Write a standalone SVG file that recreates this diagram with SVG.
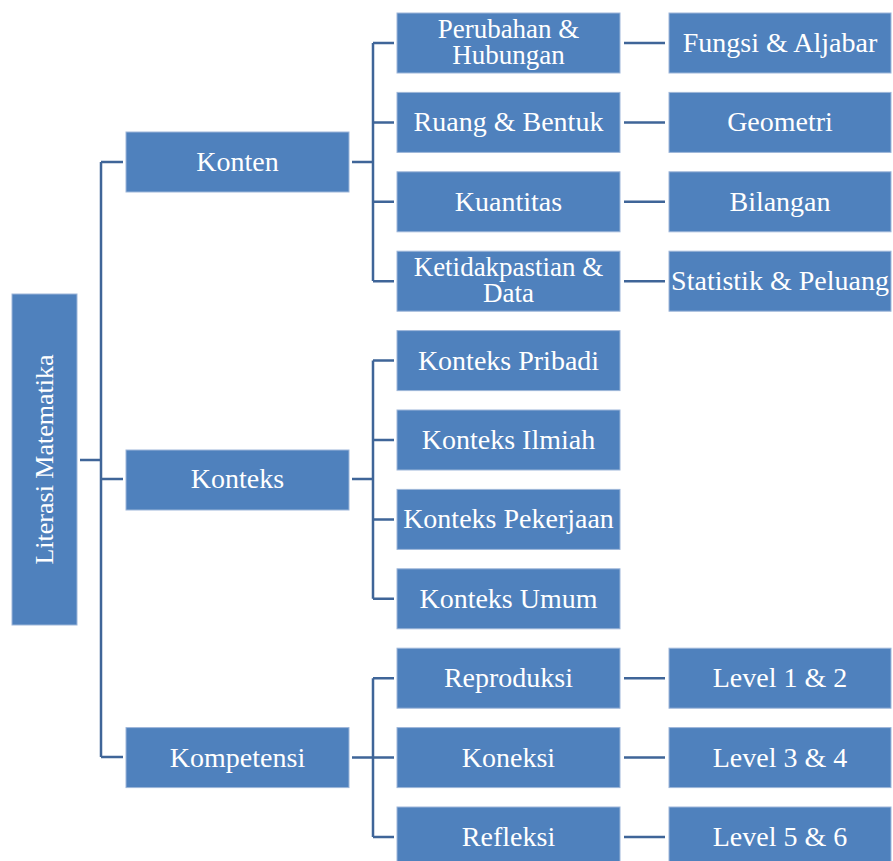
<svg xmlns="http://www.w3.org/2000/svg" width="893" height="861" viewBox="0 0 893 861">
<style>
.b{fill:#4F81BD;stroke:#9db6d9;stroke-width:1}
.t{fill:#ffffff;font-family:"Liberation Serif","Times New Roman",serif;font-size:28px;text-anchor:middle}
.t2{font-size:27px}
.c{fill:none;stroke:#3F6598;stroke-width:2.5}
</style>
<rect width="893" height="861" fill="#ffffff"/>
<g id="connectors">
<path class="c" d="M80,460H101M101,162V757M101,162H123M101,479H123M101,757H123"/>
<path class="c" d="M352,162H373M373,43V281M373,43H394M373,122.4H394M373,201.8H394M373,281.2H394"/>
<path class="c" d="M352,479H373M373,360.6V598.8M373,360.6H394M373,440H394M373,519.4H394M373,598.8H394"/>
<path class="c" d="M352,757.6H373M373,678.2V837M373,678.2H394M373,757.6H394M373,837H394"/>
<path class="c" d="M624,43H665M624,122.4H665M624,201.8H665M624,281.2H665M624,678.2H665M624,757.6H665M624,837H665"/>
</g>
<g id="root"><rect class="b" x="12" y="294" width="65" height="331"/><text class="t" style="font-size:26px" transform="rotate(-90 53 459.5)" x="53" y="459.5">Literasi Matematika</text></g>
<g id="konten"><rect class="b" x="126" y="132" width="223" height="60"/><text class="t" x="237.5" y="171">Konten</text></g>
<g id="konteks"><rect class="b" x="126" y="450" width="223" height="60"/><text class="t" x="237.5" y="488">Konteks</text></g>
<g id="kompetensi"><rect class="b" x="126" y="727.6" width="223" height="60"/><text class="t" x="237.5" y="766.5">Kompetensi</text></g>
<g id="perubahan"><rect class="b" x="397" y="13" width="223" height="60"/><text class="t t2" x="508.5" y="38">Perubahan &amp;</text><text class="t t2" x="508.5" y="64">Hubungan</text></g>
<g id="ruang"><rect class="b" x="397" y="92.4" width="223" height="60"/><text class="t" x="508.5" y="131.4">Ruang &amp; Bentuk</text></g>
<g id="kuantitas"><rect class="b" x="397" y="171.8" width="223" height="60"/><text class="t" x="508.5" y="210.8">Kuantitas</text></g>
<g id="ketidakpastian"><rect class="b" x="397" y="251.2" width="223" height="60"/><text class="t t2" x="508.5" y="276.2">Ketidakpastian &amp;</text><text class="t t2" x="508.5" y="302.2">Data</text></g>
<g id="pribadi"><rect class="b" x="397" y="330.6" width="223" height="60"/><text class="t" x="508.5" y="369.6">Konteks Pribadi</text></g>
<g id="ilmiah"><rect class="b" x="397" y="410" width="223" height="60"/><text class="t" x="508.5" y="449">Konteks Ilmiah</text></g>
<g id="pekerjaan"><rect class="b" x="397" y="489.4" width="223" height="60"/><text class="t" x="508.5" y="528.4">Konteks Pekerjaan</text></g>
<g id="umum"><rect class="b" x="397" y="568.8" width="223" height="60"/><text class="t" x="508.5" y="607.8">Konteks Umum</text></g>
<g id="reproduksi"><rect class="b" x="397" y="648.2" width="223" height="60"/><text class="t" x="508.5" y="687.2">Reproduksi</text></g>
<g id="koneksi"><rect class="b" x="397" y="727.6" width="223" height="60"/><text class="t" x="508.5" y="766.6">Koneksi</text></g>
<g id="refleksi"><rect class="b" x="397" y="807" width="223" height="60"/><text class="t" x="508.5" y="846">Refleksi</text></g>
<g id="fungsi"><rect class="b" x="669" y="13" width="222" height="60"/><text class="t" x="780" y="52">Fungsi &amp; Aljabar</text></g>
<g id="geometri"><rect class="b" x="669" y="92.4" width="222" height="60"/><text class="t" x="780" y="131.4">Geometri</text></g>
<g id="bilangan"><rect class="b" x="669" y="171.8" width="222" height="60"/><text class="t" x="780" y="210.8">Bilangan</text></g>
<g id="statistik"><rect class="b" x="669" y="251.2" width="222" height="60"/><text class="t" x="780" y="290.2">Statistik &amp; Peluang</text></g>
<g id="level12"><rect class="b" x="669" y="648.2" width="222" height="60"/><text class="t" x="780" y="687.2">Level 1 &amp; 2</text></g>
<g id="level34"><rect class="b" x="669" y="727.6" width="222" height="60"/><text class="t" x="780" y="766.6">Level 3 &amp; 4</text></g>
<g id="level56"><rect class="b" x="669" y="807" width="222" height="60"/><text class="t" x="780" y="846">Level 5 &amp; 6</text></g>
</svg>
